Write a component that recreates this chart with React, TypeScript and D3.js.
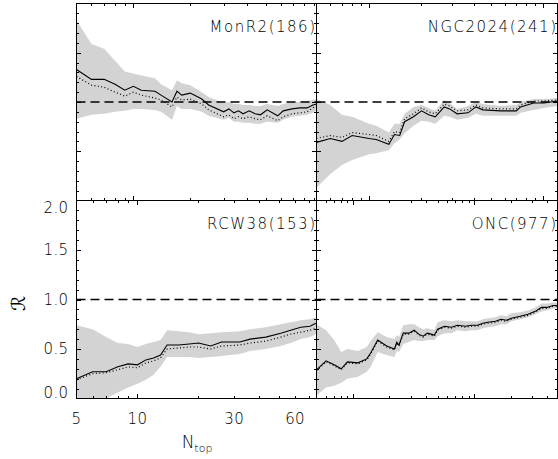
import React from "react";
import * as d3 from "d3";

// MonR2 (186 stars)
const monN = [5, 6, 7, 8, 9, 10, 11, 13, 14, 16, 17, 18, 20, 23, 25, 30, 32, 34, 36, 38, 41, 44, 47, 51, 58, 62, 69, 76, 83, 89, 93];
const monMean = [1.33, 1.23, 1.23, 1.18, 1.12, 1.16, 1.12, 1.11, 1.07, 1.0, 1.11, 1.07, 1.09, 1.03, 0.97, 0.9, 0.93, 0.89, 0.91, 0.88, 0.91, 0.88, 0.87, 0.92, 0.86, 0.91, 0.93, 0.94, 0.94, 0.97, 0.98];
const monAlt = [1.26, 1.17, 1.15, 1.1, 1.06, 1.1, 1.07, 1.04, 1.02, 0.95, 1.05, 1.02, 1.03, 0.98, 0.92, 0.85, 0.87, 0.83, 0.85, 0.83, 0.85, 0.83, 0.82, 0.86, 0.81, 0.85, 0.88, 0.89, 0.9, 0.94, 0.96];
const monHi = [1.83, 1.59, 1.54, 1.42, 1.31, 1.29, 1.27, 1.24, 1.18, 1.12, 1.22, 1.19, 1.17, 1.1, 1.05, 0.99, 1.0, 0.98, 0.98, 0.97, 0.97, 0.96, 0.96, 0.98, 0.96, 0.98, 1.0, 1.0, 1.01, 1.02, 1.03];
const monLo = [0.83, 0.87, 0.88, 0.9, 0.91, 0.93, 0.93, 0.92, 0.9, 0.82, 0.96, 0.93, 0.93, 0.9, 0.86, 0.82, 0.84, 0.8, 0.8, 0.79, 0.79, 0.78, 0.78, 0.8, 0.79, 0.82, 0.85, 0.86, 0.87, 0.89, 0.91];

// NGC2024 (241 stars)
const ngcN = [5, 6, 7, 8, 10, 11, 13, 14, 15, 16, 18, 20, 22, 24, 27, 29, 32, 37, 41, 45, 57, 70, 74, 88, 101, 120];
const ngcMean = [0.59, 0.63, 0.6, 0.66, 0.63, 0.62, 0.57, 0.67, 0.66, 0.8, 0.85, 0.91, 0.87, 0.85, 0.95, 0.93, 0.88, 0.89, 0.95, 0.92, 0.91, 0.91, 0.95, 0.99, 0.99, 1.01];
const ngcAlt = [0.63, 0.66, 0.64, 0.69, 0.67, 0.66, 0.6, 0.7, 0.69, 0.83, 0.88, 0.94, 0.9, 0.88, 0.98, 0.96, 0.91, 0.92, 0.97, 0.94, 0.93, 0.93, 0.97, 1.01, 1.01, 1.02];
const ngcHi = [1.03, 0.97, 0.87, 0.85, 0.78, 0.76, 0.69, 0.78, 0.78, 0.88, 0.95, 0.97, 0.94, 0.91, 1.02, 0.99, 0.93, 0.96, 1.0, 0.98, 0.96, 0.97, 1.0, 1.03, 1.03, 1.04];
const ngcLo = [0.13, 0.27, 0.36, 0.41, 0.47, 0.48, 0.51, 0.58, 0.62, 0.68, 0.76, 0.81, 0.8, 0.78, 0.86, 0.85, 0.82, 0.84, 0.88, 0.86, 0.86, 0.86, 0.89, 0.92, 0.94, 0.96];

// RCW38 (153 stars)
const rcwN = [5, 6, 7, 8, 9, 10, 11, 12, 13, 14, 16, 18, 20, 23, 26, 32, 36, 43, 51, 57, 64, 71, 76];
const rcwMean = [0.2, 0.27, 0.27, 0.32, 0.35, 0.34, 0.39, 0.41, 0.44, 0.54, 0.54, 0.55, 0.56, 0.53, 0.57, 0.57, 0.6, 0.62, 0.66, 0.69, 0.72, 0.73, 0.76];
const rcwAlt = [0.19, 0.25, 0.26, 0.29, 0.32, 0.31, 0.36, 0.38, 0.41, 0.5, 0.51, 0.52, 0.52, 0.5, 0.53, 0.54, 0.56, 0.58, 0.62, 0.65, 0.67, 0.69, 0.71];
const rcwHi = [0.74, 0.7, 0.62, 0.56, 0.55, 0.52, 0.55, 0.57, 0.59, 0.69, 0.68, 0.67, 0.65, 0.66, 0.67, 0.68, 0.7, 0.72, 0.75, 0.77, 0.79, 0.8, 0.82];
const rcwLo = [-0.1, -0.05, 0.0, 0.06, 0.11, 0.15, 0.19, 0.24, 0.32, 0.42, 0.42, 0.42, 0.41, 0.42, 0.43, 0.45, 0.48, 0.5, 0.53, 0.56, 0.6, 0.62, 0.65];

// ONC (977 stars)
const oncN = [5, 6, 7, 8, 9, 11, 13, 14, 16, 19, 22, 23, 24, 26, 29, 32, 35, 38, 41, 44, 47, 50, 57, 65, 73, 85, 95, 107, 118, 130, 150, 167, 185, 203, 240, 279, 320, 360, 400, 449, 488];
const oncMean = [0.29, 0.38, 0.34, 0.3, 0.37, 0.36, 0.4, 0.46, 0.59, 0.53, 0.5, 0.57, 0.54, 0.66, 0.66, 0.69, 0.65, 0.63, 0.66, 0.65, 0.64, 0.7, 0.73, 0.72, 0.74, 0.73, 0.74, 0.74, 0.76, 0.77, 0.78, 0.8, 0.79, 0.81, 0.83, 0.85, 0.88, 0.92, 0.92, 0.94, 0.94];
const oncAlt = [0.28, 0.37, 0.33, 0.29, 0.36, 0.35, 0.39, 0.45, 0.58, 0.52, 0.49, 0.56, 0.53, 0.65, 0.65, 0.68, 0.64, 0.62, 0.65, 0.64, 0.63, 0.69, 0.72, 0.71, 0.73, 0.72, 0.73, 0.73, 0.75, 0.76, 0.77, 0.79, 0.78, 0.8, 0.82, 0.84, 0.87, 0.91, 0.91, 0.93, 0.93];
const oncHi = [0.75, 0.69, 0.59, 0.47, 0.5, 0.48, 0.52, 0.58, 0.67, 0.62, 0.6, 0.64, 0.62, 0.74, 0.75, 0.75, 0.72, 0.7, 0.71, 0.7, 0.69, 0.77, 0.79, 0.78, 0.79, 0.78, 0.78, 0.78, 0.8, 0.81, 0.82, 0.84, 0.83, 0.86, 0.87, 0.89, 0.92, 0.96, 0.96, 0.97, 0.97];
const oncLo = [0.03, 0.11, 0.13, 0.16, 0.2, 0.22, 0.27, 0.32, 0.47, 0.44, 0.42, 0.48, 0.47, 0.55, 0.57, 0.59, 0.58, 0.58, 0.59, 0.59, 0.59, 0.63, 0.66, 0.66, 0.69, 0.68, 0.69, 0.69, 0.71, 0.72, 0.73, 0.75, 0.75, 0.78, 0.8, 0.82, 0.85, 0.88, 0.89, 0.91, 0.91];

const yTickLabels = [0, 0.5, 1, 1.5, 2];
const xTickLabels = [5, 10, 30, 60];

const panels = [
  { name: "MonR2", total: 186, n: monN, mean: monMean, alt: monAlt, lo: monLo, hi: monHi, col: 0, row: 0 },
  { name: "NGC2024", total: 241, n: ngcN, mean: ngcMean, alt: ngcAlt, lo: ngcLo, hi: ngcHi, col: 1, row: 0 },
  { name: "RCW38", total: 153, n: rcwN, mean: rcwMean, alt: rcwAlt, lo: rcwLo, hi: rcwHi, col: 0, row: 1 },
  { name: "ONC", total: 977, n: oncN, mean: oncMean, alt: oncAlt, lo: oncLo, hi: oncHi, col: 1, row: 1 },
];

const colX = [76.5, 316.5, 557.5];
const rowY = [3.5, 200.5, 398.5];
const FONT = "'DejaVu Sans', Verdana, sans-serif";
const INK = "#000";
const TEXT = "#000";

function logTicks(lo: number, hi: number) {
  const out: { v: number; major: boolean }[] = [];
  for (let d = 1; d <= 1000; d *= 10) {
    for (let m = 1; m <= 9; m++) {
      const v = m * d;
      if (v > lo && v < hi) out.push({ v, major: m === 1 });
    }
  }
  return out;
}

function Panel({ p, i }: { p: (typeof panels)[number]; i: number }) {
  const x0 = colX[p.col], x1 = colX[p.col + 1];
  const y0 = rowY[p.row + 1], y1 = rowY[p.row];
  const x = d3.scaleLog().domain([5, p.total / 2]).range([x0, x1]);
  const y = d3.scaleLinear().domain([0, 2]).range([y0, y1]);
  const idx = d3.range(p.n.length);

  const band = d3.area<number>().x((k) => x(p.n[k])).y0((k) => y(p.lo[k])).y1((k) => y(p.hi[k]));
  const meanLine = d3.line<number>().x((k) => x(p.n[k])).y((k) => y(p.mean[k]));
  const altLine = d3.line<number>().x((k) => x(p.n[k])).y((k) => y(p.alt[k]));

  const xt = logTicks(5, p.total / 2);
  const yt = d3.range(1, 20).map((k) => ({ v: k / 10, major: k % 5 === 0 }));
  const clip = `clip-${i}`;

  return (
    <g>
      <defs>
        <clipPath id={clip}>
          <rect x={x0} y={y1} width={x1 - x0} height={y0 - y1} />
        </clipPath>
      </defs>
      <g clipPath={`url(#${clip})`}>
        <path d={band(idx) ?? ""} fill="#d3d3d3" />
        <path d={meanLine(idx) ?? ""} fill="none" stroke={INK} strokeWidth={1.1} />
        <path d={altLine(idx) ?? ""} fill="none" stroke={INK} strokeWidth={1.2} strokeDasharray="1,2.4" />
        <line x1={x0} x2={x1} y1={y(1)} y2={y(1)} stroke={INK} strokeWidth={1.4} strokeDasharray="9,5" />
      </g>
      <rect x={x0} y={y1} width={x1 - x0} height={y0 - y1} fill="none" stroke={INK} strokeWidth={1} />
      {xt.map((t) => {
        const len = t.major ? 4.5 : 2.5;
        const px = Math.round(x(t.v)) + 0.5;
        return (
          <g key={`x${t.v}`} stroke={INK} strokeWidth={1}>
            <line x1={px} x2={px} y1={y0} y2={y0 - len} />
            <line x1={px} x2={px} y1={y1} y2={y1 + len} />
          </g>
        );
      })}
      {yt.map((t) => {
        const len = t.major ? 4.5 : 2.5;
        const py = Math.round(y(t.v)) + 0.5;
        return (
          <g key={`y${t.v}`} stroke={INK} strokeWidth={1}>
            <line x1={x0} x2={x0 + len} y1={py} y2={py} />
            <line x1={x1} x2={x1 - len} y1={py} y2={py} />
          </g>
        );
      })}
      <text
        x={x1}
        y={y1 + 28}
        textAnchor="end"
        fontFamily={FONT}
        fontWeight={200}
        fontSize={15}
        letterSpacing={1.5}
        fill={TEXT}
      >
        {`${p.name}(${p.total})`}
      </text>
      {p.col === 0 && p.row === 1 && (
        <g fontFamily={FONT} fontWeight={200} fontSize={15} fill={TEXT}>
          {yTickLabels.map((v) => (
            <text
              key={`yl${v}`}
              x={x0 - 8}
              y={y(v) + (v === 0 ? -6 : v === 2 ? 7 : 0)}
              dy="0.36em"
              textAnchor="end"
              letterSpacing={0.4}
            >
              {d3.format(".1f")(v)}
            </text>
          ))}
          {xTickLabels.map((v) => (
            <text key={`xl${v}`} x={x(v)} y={y0 + 25} textAnchor="middle" letterSpacing={0.4}>
              {v}
            </text>
          ))}
        </g>
      )}
    </g>
  );
}

export default function App() {
  return (
    <svg
      width={558}
      height={459}
      viewBox="0 0 558 459"
      style={{ position: "absolute", left: 0, top: 0, background: "#fff" }}
    >
      <rect width={558} height={459} fill="#fff" />
      {panels.map((p, i) => (
        <Panel key={p.name} p={p} i={i} />
      ))}
      <text
        transform="translate(25,303.5) rotate(-90)"
        textAnchor="middle"
        fontFamily={FONT}
        fontSize={19}
        fill={TEXT}
      >
        ℛ
      </text>
      <text x={197} y={448} textAnchor="middle" fontFamily={FONT} fontWeight={200} fill={TEXT}>
        <tspan fontSize={17}>N</tspan>
        <tspan fontSize={11} dy={3.5}>top</tspan>
      </text>
    </svg>
  );
}
